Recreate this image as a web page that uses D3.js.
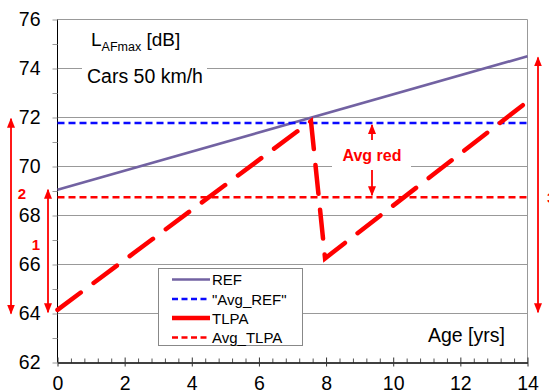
<!DOCTYPE html>
<html><head><meta charset="utf-8">
<script src="https://cdn.jsdelivr.net/npm/d3@7"></script>
<style>body{margin:0;background:#fff}svg{display:block;font-family:"Liberation Sans",Arial,sans-serif}</style>
</head><body><svg id="c" width="549" height="391"></svg>
<script>
const xTicks = [0,2,4,6,8,10,12,14];
const yTicks = [62,64,66,68,70,72,74,76];
const refX = [0,14];
const refY = [69.05,74.5];
const tlpaX = [0,7.55,7.97,14];
const tlpaY = [64.15,71.85,66.25,72.65];
const avgRef = 71.78;
const avgTlpa = 68.75;
const legendLabels = ["REF","\"Avg_REF\"","TLPA","Avg_TLPA"];

const svg = d3.select("#c");
const x = d3.scaleLinear().domain([0,14]).range([57.5,527.5]);
const y = d3.scaleLinear().domain([62,76]).range([362.5,19.5]);
const grey = "#999";

// gridlines (with gaps behind text boxes)
const gaps = {74:[82,207],70:[332,411]};
yTicks.forEach(v=>{
  if (v===62) return;
  const g = gaps[v];
  const segs = g ? [[x(0),g[0]],[g[1],x(14)]] : [[x(0),x(14)]];
  segs.forEach(s=>svg.append("line").attr("x1",s[0]).attr("x2",s[1]).attr("y1",y(v)).attr("y2",y(v)).attr("stroke",grey).attr("stroke-width",1));
});
// right border
svg.append("line").attr("x1",x(14)).attr("x2",x(14)).attr("y1",y(76)).attr("y2",y(62)).attr("stroke",grey);

// axes
const yAxis = d3.axisLeft(y).tickValues(yTicks).tickSize(5).tickPadding(12).tickFormat(d3.format("d"));
const gy = svg.append("g").attr("transform",`translate(${x(0)},0)`).call(yAxis);
gy.select(".domain").attr("stroke","#000").attr("d",`M0,${y(76)}V${y(62)}`);
gy.selectAll(".tick line").attr("stroke",grey);
gy.selectAll("text").attr("font-size",19.5).attr("fill","#000").attr("font-family","Liberation Sans, Arial");
const yMinor = d3.axisLeft(y).tickValues([63,65,67,69,71,73,75]).tickSize(5).tickFormat("");
const gym = svg.append("g").attr("transform",`translate(${x(0)},0)`).call(yMinor);
gym.select(".domain").remove(); gym.selectAll(".tick line").attr("stroke",grey);

const minorX = d3.range(0,14.01,0.4).filter(v=>Math.abs(v/2-Math.round(v/2))>1e-6);
const xMinor = d3.axisTop(x).tickValues(minorX).tickSize(4).tickFormat("");
const gxm = svg.append("g").attr("transform",`translate(0,${y(62)})`).call(xMinor);
gxm.select(".domain").remove(); gxm.selectAll(".tick line").attr("stroke","#555");
const xAxis = d3.axisBottom(x).tickValues(xTicks).tickSizeInner(4).tickSizeOuter(0).tickPadding(10).tickFormat(d3.format("d"));
const gx = svg.append("g").attr("transform",`translate(0,${y(62)})`).call(xAxis);
gx.select(".domain").attr("stroke","#000").attr("stroke-width",1.5);
gx.selectAll(".tick line").attr("stroke","#333").attr("y1",-5);
gx.selectAll("text").attr("font-size",19.5).attr("fill","#000").attr("font-family","Liberation Sans, Arial");

// series
const purple = "#7262a2", blue = "#0a0aff", red = "#ff0000";
const line = d3.line().x(d=>x(d[0])).y(d=>y(d[1]));
svg.append("path").datum(refX.map((v,i)=>[v,refY[i]])).attr("d",line).attr("fill","none").attr("stroke",purple).attr("stroke-width",2.6);
svg.append("path").datum([[0,avgRef],[14,avgRef]]).attr("d",line).attr("fill","none").attr("stroke",blue).attr("stroke-width",2.5).attr("stroke-dasharray","7,4");
svg.append("path").datum([[0,avgTlpa],[14,avgTlpa]]).attr("d",line).attr("fill","none").attr("stroke",red).attr("stroke-width",2.5).attr("stroke-dasharray","7,4");
svg.append("path").datum(tlpaX.map((v,i)=>[v,tlpaY[i]])).attr("d",line).attr("fill","none").attr("stroke",red).attr("stroke-width",4.5).attr("stroke-linecap","round").attr("stroke-dasharray","29,16");

// arrows
const defs = svg.append("defs");
defs.append("marker").attr("id","ah").attr("viewBox","0 0 10 10").attr("refX",9).attr("refY",5)
  .attr("markerWidth",10).attr("markerHeight",10).attr("markerUnits","userSpaceOnUse").attr("orient","auto-start-reverse")
  .append("path").attr("d","M0,1 L10,5 L0,9 Z").attr("fill",red);
function arrow(x1,y1,x2,y2,both){
  const l = svg.append("line").attr("x1",x1).attr("y1",y1).attr("x2",x2).attr("y2",y2).attr("stroke",red).attr("stroke-width",1.8).attr("marker-end","url(#ah)");
  if (both) l.attr("marker-start","url(#ah)");
}
arrow(11,y(64),11,y(71.95),true);
arrow(48,y(64.05),48,y(69.05),true);
arrow(538,y(64.05),538,y(74.45),true);
arrow(372,140,372,y(avgRef)+2,false);
arrow(372,170,372,y(avgTlpa)-2,false);

// annotation texts
const ann = svg.append("g").attr("fill",red).attr("font-weight","bold").attr("font-size",15);
ann.append("text").attr("x",22).attr("y",199).attr("text-anchor","middle").text("2");
ann.append("text").attr("x",36).attr("y",250).attr("text-anchor","middle").text("1");
ann.append("text").attr("x",547).attr("y",203).text("3");
ann.append("text").attr("x",372).attr("y",161).attr("text-anchor","middle").attr("font-size",16).text("Avg red");

const t = svg.append("text").attr("x",91).attr("y",46).attr("font-size",19).attr("fill","#000");
t.append("tspan").text("L");
t.append("tspan").attr("font-size",12.5).attr("dy",5).text("AFmax");
t.append("tspan").attr("dy",-5).text(" [dB]");
svg.append("text").attr("x",87).attr("y",83).attr("font-size",19.5).text("Cars 50 km/h");
svg.append("text").attr("x",428).attr("y",342).attr("font-size",19.5).text("Age [yrs]");

// legend
const lg = svg.append("g");
lg.append("rect").attr("x",158.5).attr("y",268.5).attr("width",144).attr("height",77).attr("fill","#fff").attr("stroke","#888");
const lstyles = [
  {c:purple,w:2.6,d:null},{c:blue,w:2.5,d:"6,3.5"},{c:red,w:4.5,d:null},{c:red,w:2.5,d:"6,3.5"}];
const rowY = [279.5,299,318,337.5];
legendLabels.forEach((lab,i)=>{
  const s = lstyles[i];
  const ln = lg.append("line").attr("x1",172).attr("x2",210).attr("y1",rowY[i]).attr("y2",rowY[i]).attr("stroke",s.c).attr("stroke-width",s.w);
  if (s.d) ln.attr("stroke-dasharray",s.d);
  lg.append("text").attr("x",212).attr("y",rowY[i]+5.5).attr("font-size",15).text(lab);
});
</script></body></html>
